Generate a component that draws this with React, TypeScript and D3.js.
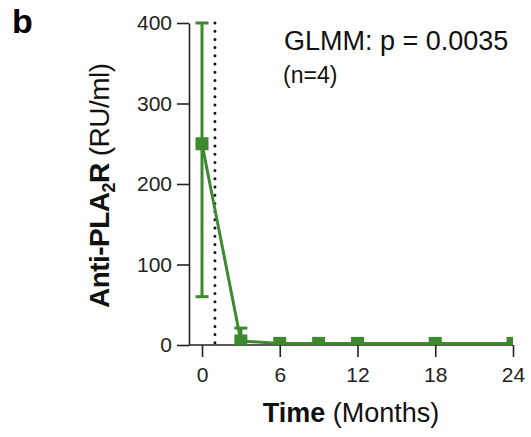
import React, { useEffect, useRef } from 'react';
import * as d3 from 'd3';

// time points (months) and Anti-PLA2R levels
const months = [0, 3, 6, 9, 12, 18, 24];
const means = [250, 5, 2, 2, 2, 2, 2];
const errLow = [60, 0, 2, 2, 2, 2, 2];
const errHigh = [400, 21, 2, 2, 2, 2, 2];
const xTicks = [0, 6, 12, 18, 24];
const yTicks = [0, 100, 200, 300, 400];
const treatmentMonth = 1;

const W = 531;
const H = 437;
const GREEN = '#3d8a2e';
const FONT = '"Liberation Sans", Arial, Helvetica, sans-serif';

const App = () => {
  const ref = useRef<SVGSVGElement>(null);

  useEffect(() => {
    const svg = d3.select(ref.current);
    svg.selectAll('*').remove();

    const x = d3.scaleLinear().domain([0, 24]).range([202, 513]);
    const y = d3.scaleLinear().domain([0, 400]).range([345, 23]);
    const axisLeftX = 189;

    //axes
    const gy = svg
      .append('g')
      .attr('transform', `translate(${axisLeftX},0)`)
      .call(d3.axisLeft(y).tickValues(yTicks).tickSize(12).tickSizeOuter(0).tickPadding(5));

    const gx = svg
      .append('g')
      .attr('transform', `translate(0,${y(0)})`)
      .call(d3.axisBottom(x).tickValues(xTicks).tickSize(12).tickSizeOuter(0).tickPadding(10));
    gx.select('.domain').attr('d', `M${axisLeftX},0H${x(24)}`);

    [gx, gy].forEach((g) => {
      g.selectAll('path, line').attr('stroke', '#222').attr('stroke-width', 1.6);
      g.selectAll('text').attr('font-family', FONT).attr('font-size', 21).attr('fill', '#222');
    });

    //dotted line for treatment start
    svg
      .append('line')
      .attr('x1', x(treatmentMonth))
      .attr('x2', x(treatmentMonth))
      .attr('y1', y(400))
      .attr('y2', y(0) - 2)
      .attr('stroke', '#111')
      .attr('stroke-width', 3)
      .attr('stroke-linecap', 'round')
      .attr('stroke-dasharray', '0 8.2');

    //clip
    svg
      .append('clipPath')
      .attr('id', 'plotClip')
      .append('rect')
      .attr('x', axisLeftX)
      .attr('y', 0)
      .attr('width', x(24) - axisLeftX)
      .attr('height', y(0));

    const plot = svg.append('g').attr('clip-path', 'url(#plotClip)');

    const line = d3
      .line<number>()
      .x((d, i) => x(months[i]))
      .y((d) => y(d));

    plot
      .append('path')
      .datum(means)
      .attr('fill', 'none')
      .attr('stroke', GREEN)
      .attr('stroke-width', 3)
      .attr('d', line);

    //error bars
    months.forEach((m, i) => {
      if (errHigh[i] === errLow[i]) return;
      const cx = x(m);
      plot
        .append('line')
        .attr('x1', cx)
        .attr('x2', cx)
        .attr('y1', y(errLow[i]))
        .attr('y2', y(errHigh[i]))
        .attr('stroke', GREEN)
        .attr('stroke-width', 3);
      [errLow[i], errHigh[i]].forEach((v) => {
        if (v <= 0) return;
        plot
          .append('line')
          .attr('x1', cx - 6.5)
          .attr('x2', cx + 6.5)
          .attr('y1', y(v))
          .attr('y2', y(v))
          .attr('stroke', GREEN)
          .attr('stroke-width', 3);
      });
    });

    //markers
    plot
      .selectAll('rect.pt')
      .data(means)
      .enter()
      .append('rect')
      .attr('class', 'pt')
      .attr('x', (d, i) => x(months[i]) - 6.5)
      .attr('y', (d) => y(d) - 6.5)
      .attr('width', 13)
      .attr('height', 13)
      .attr('fill', GREEN);

    //texts
    svg
      .append('text')
      .attr('x', 12)
      .attr('y', 33)
      .attr('font-family', FONT)
      .attr('font-weight', 'bold')
      .attr('font-size', 34)
      .text('b');

    svg
      .append('text')
      .attr('x', 284)
      .attr('y', 50)
      .attr('font-family', FONT)
      .attr('font-size', 27)
      .attr('fill', '#111')
      .text('GLMM: p = 0.0035');

    svg
      .append('text')
      .attr('x', 283)
      .attr('y', 83)
      .attr('font-family', FONT)
      .attr('font-size', 23)
      .attr('fill', '#111')
      .text('(n=4)');

    const yl = svg
      .append('text')
      .attr('transform', 'translate(109,185.5) rotate(-90)')
      .attr('text-anchor', 'middle')
      .attr('font-family', FONT)
      .attr('font-size', 28)
      .attr('textLength', 245)
      .attr('fill', '#111');
    yl.append('tspan').attr('font-weight', 'bold').text('Anti-PLA');
    yl.append('tspan').attr('font-weight', 'bold').attr('font-size', 18).attr('dy', 6).text('2');
    yl.append('tspan').attr('font-weight', 'bold').attr('dy', -6).text('R');
    yl.append('tspan').text(' (RU/ml)');

    const xl = svg
      .append('text')
      .attr('x', 351)
      .attr('y', 422)
      .attr('text-anchor', 'middle')
      .attr('font-family', FONT)
      .attr('font-size', 27)
      .attr('fill', '#111');
    xl.append('tspan').attr('font-weight', 'bold').text('Time');
    xl.append('tspan').text(' (Months)');
  }, []);

  return (
    <svg
      ref={ref}
      width={W}
      height={H}
      style={{ position: 'absolute', left: 0, top: 0, background: '#fff' }}
    />
  );
};

export default App;
